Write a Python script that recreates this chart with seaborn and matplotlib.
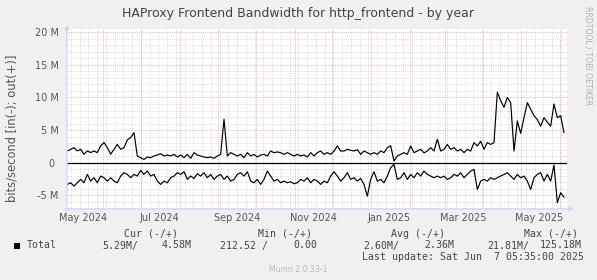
import numpy as np
import pandas as pd
import matplotlib
matplotlib.use("Agg")
import matplotlib.pyplot as plt
import matplotlib.dates as mdates
from matplotlib.ticker import FixedLocator
from matplotlib.patches import Rectangle
import seaborn as sns

# ---------------- data ----------------
title = "HAProxy Frontend Bandwidth for http_frontend - by year"
ylabel = "bits/second [in(-); out(+)]"
series_name = "Total"
first_sample = "2024-05-03 12:00"
sample_step = "64h"
window_start = "2024-05-03 05:35"
window_end = "2025-06-07 05:35"

# out (+) traffic, Mbit/s
out_mbit = [
    1.8, 2.05, 2.3, 1.8, 2.05, 1.3, 1.8, 1.55, 1.8, 1.55,
    2.56, 3.1, 2.3, 1.3, 2.05, 2.8, 2.05, 2.3, 3.5, 3.85,
    4.6, 1.0, 0.77, 0.5, 0.87, 0.77, 1.03, 1.18, 1.38, 1.03,
    1.18, 1.03, 1.28, 0.87, 1.18, 0.77, 1.28, 0.67, 1.54, 1.18,
    1.03, 0.87, 0.77, 0.87, 0.67, 1.03, 1.28, 6.67, 1.03, 1.54,
    1.28, 1.03, 1.28, 0.77, 1.54, 1.03, 1.28, 0.87, 1.18, 1.28,
    1.03, 1.79, 1.54, 1.64, 1.54, 1.28, 1.54, 1.28, 1.03, 1.28,
    1.03, 1.18, 0.87, 1.54, 1.03, 1.54, 1.79, 1.28, 1.54, 1.28,
    1.79, 2.56, 1.79, 1.79, 2.05, 1.9, 1.79, 2.0, 1.28, 1.79,
    1.54, 1.28, 1.54, 1.28, 1.79, 1.54, 2.3, 2.6, 0.25, 1.03,
    1.28, 1.54, 1.28, 2.56, 1.54, 1.79, 2.05, 1.5, 1.8, 2.3,
    1.8, 3.59, 1.79, 2.05, 2.8, 2.05, 2.3, 1.79, 2.05, 1.54,
    2.05, 1.79, 3.08, 2.56, 3.3, 2.05, 3.08, 2.8, 3.08, 10.8,
    9.5, 8.5, 10.0, 9.2, 1.79, 6.4, 4.5, 6.9, 9.2, 8.2,
    7.2, 6.6, 5.6, 6.9, 6.2, 5.6, 9.0, 6.9, 7.2, 4.6,
]
# in (-) traffic, Mbit/s (drawn below zero)
in_mbit = [
    3.33, 3.08, 3.59, 3.08, 2.56, 3.08, 1.79, 2.82, 2.31, 3.08,
    2.05, 2.31, 2.82, 2.31, 2.82, 3.08, 2.05, 1.54, 1.79, 2.31,
    1.79, 2.05, 1.18, 1.79, 1.28, 2.05, 1.79, 2.82, 3.33, 2.82,
    3.08, 2.31, 2.05, 1.54, 1.79, 1.38, 2.56, 2.05, 2.41, 1.69,
    2.05, 1.54, 2.31, 1.79, 2.56, 2.05, 1.79, 2.56, 2.05, 2.82,
    2.56, 1.79, 1.54, 2.05, 1.38, 2.82, 3.08, 2.56, 3.33, 2.56,
    1.28, 2.05, 2.82, 2.56, 3.08, 2.82, 3.08, 2.92, 3.23, 3.08,
    2.56, 2.82, 2.31, 3.08, 2.56, 2.82, 3.33, 2.82, 3.08, 2.05,
    1.38, 2.05, 2.82, 2.31, 1.54, 2.56, 2.31, 2.82, 2.41, 3.33,
    5.13, 2.56, 1.38, 2.82, 2.56, 3.08, 2.05, 0.77, 0.26, 2.56,
    2.31, 1.54, 2.56, 1.79, 2.31, 1.54, 2.05, 1.28, 1.79, 2.05,
    2.31, 2.05, 2.31, 2.05, 2.56, 2.31, 1.79, 2.05, 1.54, 2.31,
    1.79, 1.28, 1.03, 4.10, 2.82, 2.56, 2.82, 2.31, 2.56, 2.31,
    2.05, 1.79, 1.54, 2.05, 2.56, 1.79, 2.31, 2.05, 2.82, 4.10,
    2.31, 1.79, 1.54, 2.82, 1.79, 2.82, 0.36, 6.15, 4.60, 5.29,
]

y_ticks = [-5, 0, 5, 10, 15, 20]
y_tick_labels = ["-5 M", "0 ", "5 M", "10 M", "15 M", "20 M"]
legend_headers = ["Cur (-/+)", "Min (-/+)", "Avg (-/+)", "Max (-/+)"]
cur_in, cur_out = "5.29M/", "4.58M"
min_in, min_out = "212.52 /", "0.00"
avg_in, avg_out = "2.60M/", "2.36M"
max_in, max_out = "21.81M/", "125.18M"
last_update = "Last update: Sat Jun  7 05:35:00 2025"
watermark = "RRDTOOL / TOBI OETIKER"
footer = "Munin 2.0.33-1"

# ---------------- figure ----------------
sns.set_style("white")
plt.rcParams["font.family"] = ["DejaVu Sans"]

W, H = 597, 280
fig = plt.figure(figsize=(W / 100, H / 100), dpi=100, facecolor="#f0f0f0")

def fx(x):
    return x / W

def fy(y):
    return 1 - y / H

ax_left, ax_right, ax_top, ax_bottom = 67, 567, 29.3, 209
ax = fig.add_axes([fx(ax_left), fy(ax_bottom), (ax_right - ax_left) / W, (ax_bottom - ax_top) / H])
ax.set_facecolor("white")

times = pd.date_range(first_sample, periods=len(out_mbit), freq=sample_step)
df = pd.DataFrame({"time": times, "out": out_mbit, "in": -np.array(in_mbit)})

t0, t1 = pd.Timestamp(window_start), pd.Timestamp(window_end)
ax.set_xlim(t0, t1)
ax.set_ylim(-7.1, 20.45)

# grid
grid_minor = "#d4d4d4"
grid_major = "#f0a0a0"
dots = (0, (1, 1.2))
for w in pd.date_range(t0, t1, freq="W-MON"):
    ax.axvline(w, color=grid_minor, lw=0.6, ls=dots, zorder=0.4)
for m in pd.date_range(t0, t1, freq="MS"):
    ax.axvline(m, color=grid_major, lw=0.6, ls=dots, zorder=0.5)
for v in range(-7, 21):
    if v % 5 != 0:
        ax.axhline(v, color=grid_minor, lw=0.6, ls=dots, zorder=0.4)
for v in y_ticks:
    ax.axhline(v, color=grid_major, lw=0.6, ls=dots, zorder=0.5)

# series
sns.lineplot(data=df, x="time", y="out", color="black", lw=0.85, ax=ax, zorder=3)
sns.lineplot(data=df, x="time", y="in", color="black", lw=0.85, ax=ax, zorder=3)
ax.axhline(0, color="black", lw=0.9, zorder=2.5)

# axes styling
for s in ax.spines.values():
    s.set_visible(False)
ax.set_xlabel("")
ax.set_ylabel("")
ax.yaxis.set_major_locator(FixedLocator(y_ticks))
ax.set_yticklabels(y_tick_labels)
ax.xaxis.set_major_locator(mdates.MonthLocator(bymonth=[1, 3, 5, 7, 9, 11], bymonthday=16))
ax.xaxis.set_major_formatter(mdates.DateFormatter("%b %Y"))
ax.tick_params(axis="both", length=0, labelsize=7, colors="#555555")
ax.tick_params(axis="x", pad=3)
ax.tick_params(axis="y", pad=6)

axis_col = "#cfd6f8"
ax.annotate("", xy=(fx(ax_left), fy(25)), xytext=(fx(ax_left), fy(ax_bottom + 2)),
            xycoords="figure fraction",
            arrowprops=dict(arrowstyle="-|>", color=axis_col, lw=1, mutation_scale=6, shrinkA=0, shrinkB=0))
ax.annotate("", xy=(fx(574), fy(ax_bottom)), xytext=(fx(ax_left - 2), fy(ax_bottom)),
            xycoords="figure fraction",
            arrowprops=dict(arrowstyle="-|>", color=axis_col, lw=1, mutation_scale=6, shrinkA=0, shrinkB=0))

# titles
fig.text(fx(298), fy(13), title, ha="center", va="center", fontsize=9, color="#444444")
fig.text(fx(12), fy(128), ylabel, ha="center", va="center", rotation=90, fontsize=8.3, color="#555555")
fig.text(fx(588), fy(6), watermark, ha="center", va="top", rotation=270, fontsize=5.6, color="#b0b0b0")
fig.text(fx(298.5), fy(269), footer, ha="center", va="center", fontsize=5.6, color="#bbbbbb")

# legend (monospace)
mono = dict(family="DejaVu Sans Mono", fontsize=7.1, color="#444444", va="center")
for txt, x in zip(legend_headers, [124, 258, 391, 524]):
    fig.text(fx(x), fy(234), txt, ha="left", **mono)
row_y = fy(245.5)
fig.add_artist(Rectangle((fx(14), fy(248.5)), 6 / W, 6 / H, transform=fig.transFigure,
                         facecolor="black", edgecolor="none"))
fig.text(fx(27), row_y, series_name, ha="left", **mono)
fig.text(fx(102), row_y, cur_in, ha="left", **mono)
fig.text(fx(162), row_y, cur_out, ha="left", **mono)
fig.text(fx(220), row_y, min_in, ha="left", **mono)
fig.text(fx(317), row_y, min_out, ha="right", **mono)
fig.text(fx(363), row_y, avg_in, ha="left", **mono)
fig.text(fx(424), row_y, avg_out, ha="left", **mono)
fig.text(fx(487), row_y, max_in, ha="left", **mono)
fig.text(fx(540), row_y, max_out, ha="left", **mono)
fig.text(fx(362), fy(257), last_update, ha="left", **mono)

fig.savefig("out.png", dpi=100, facecolor=fig.get_facecolor())
